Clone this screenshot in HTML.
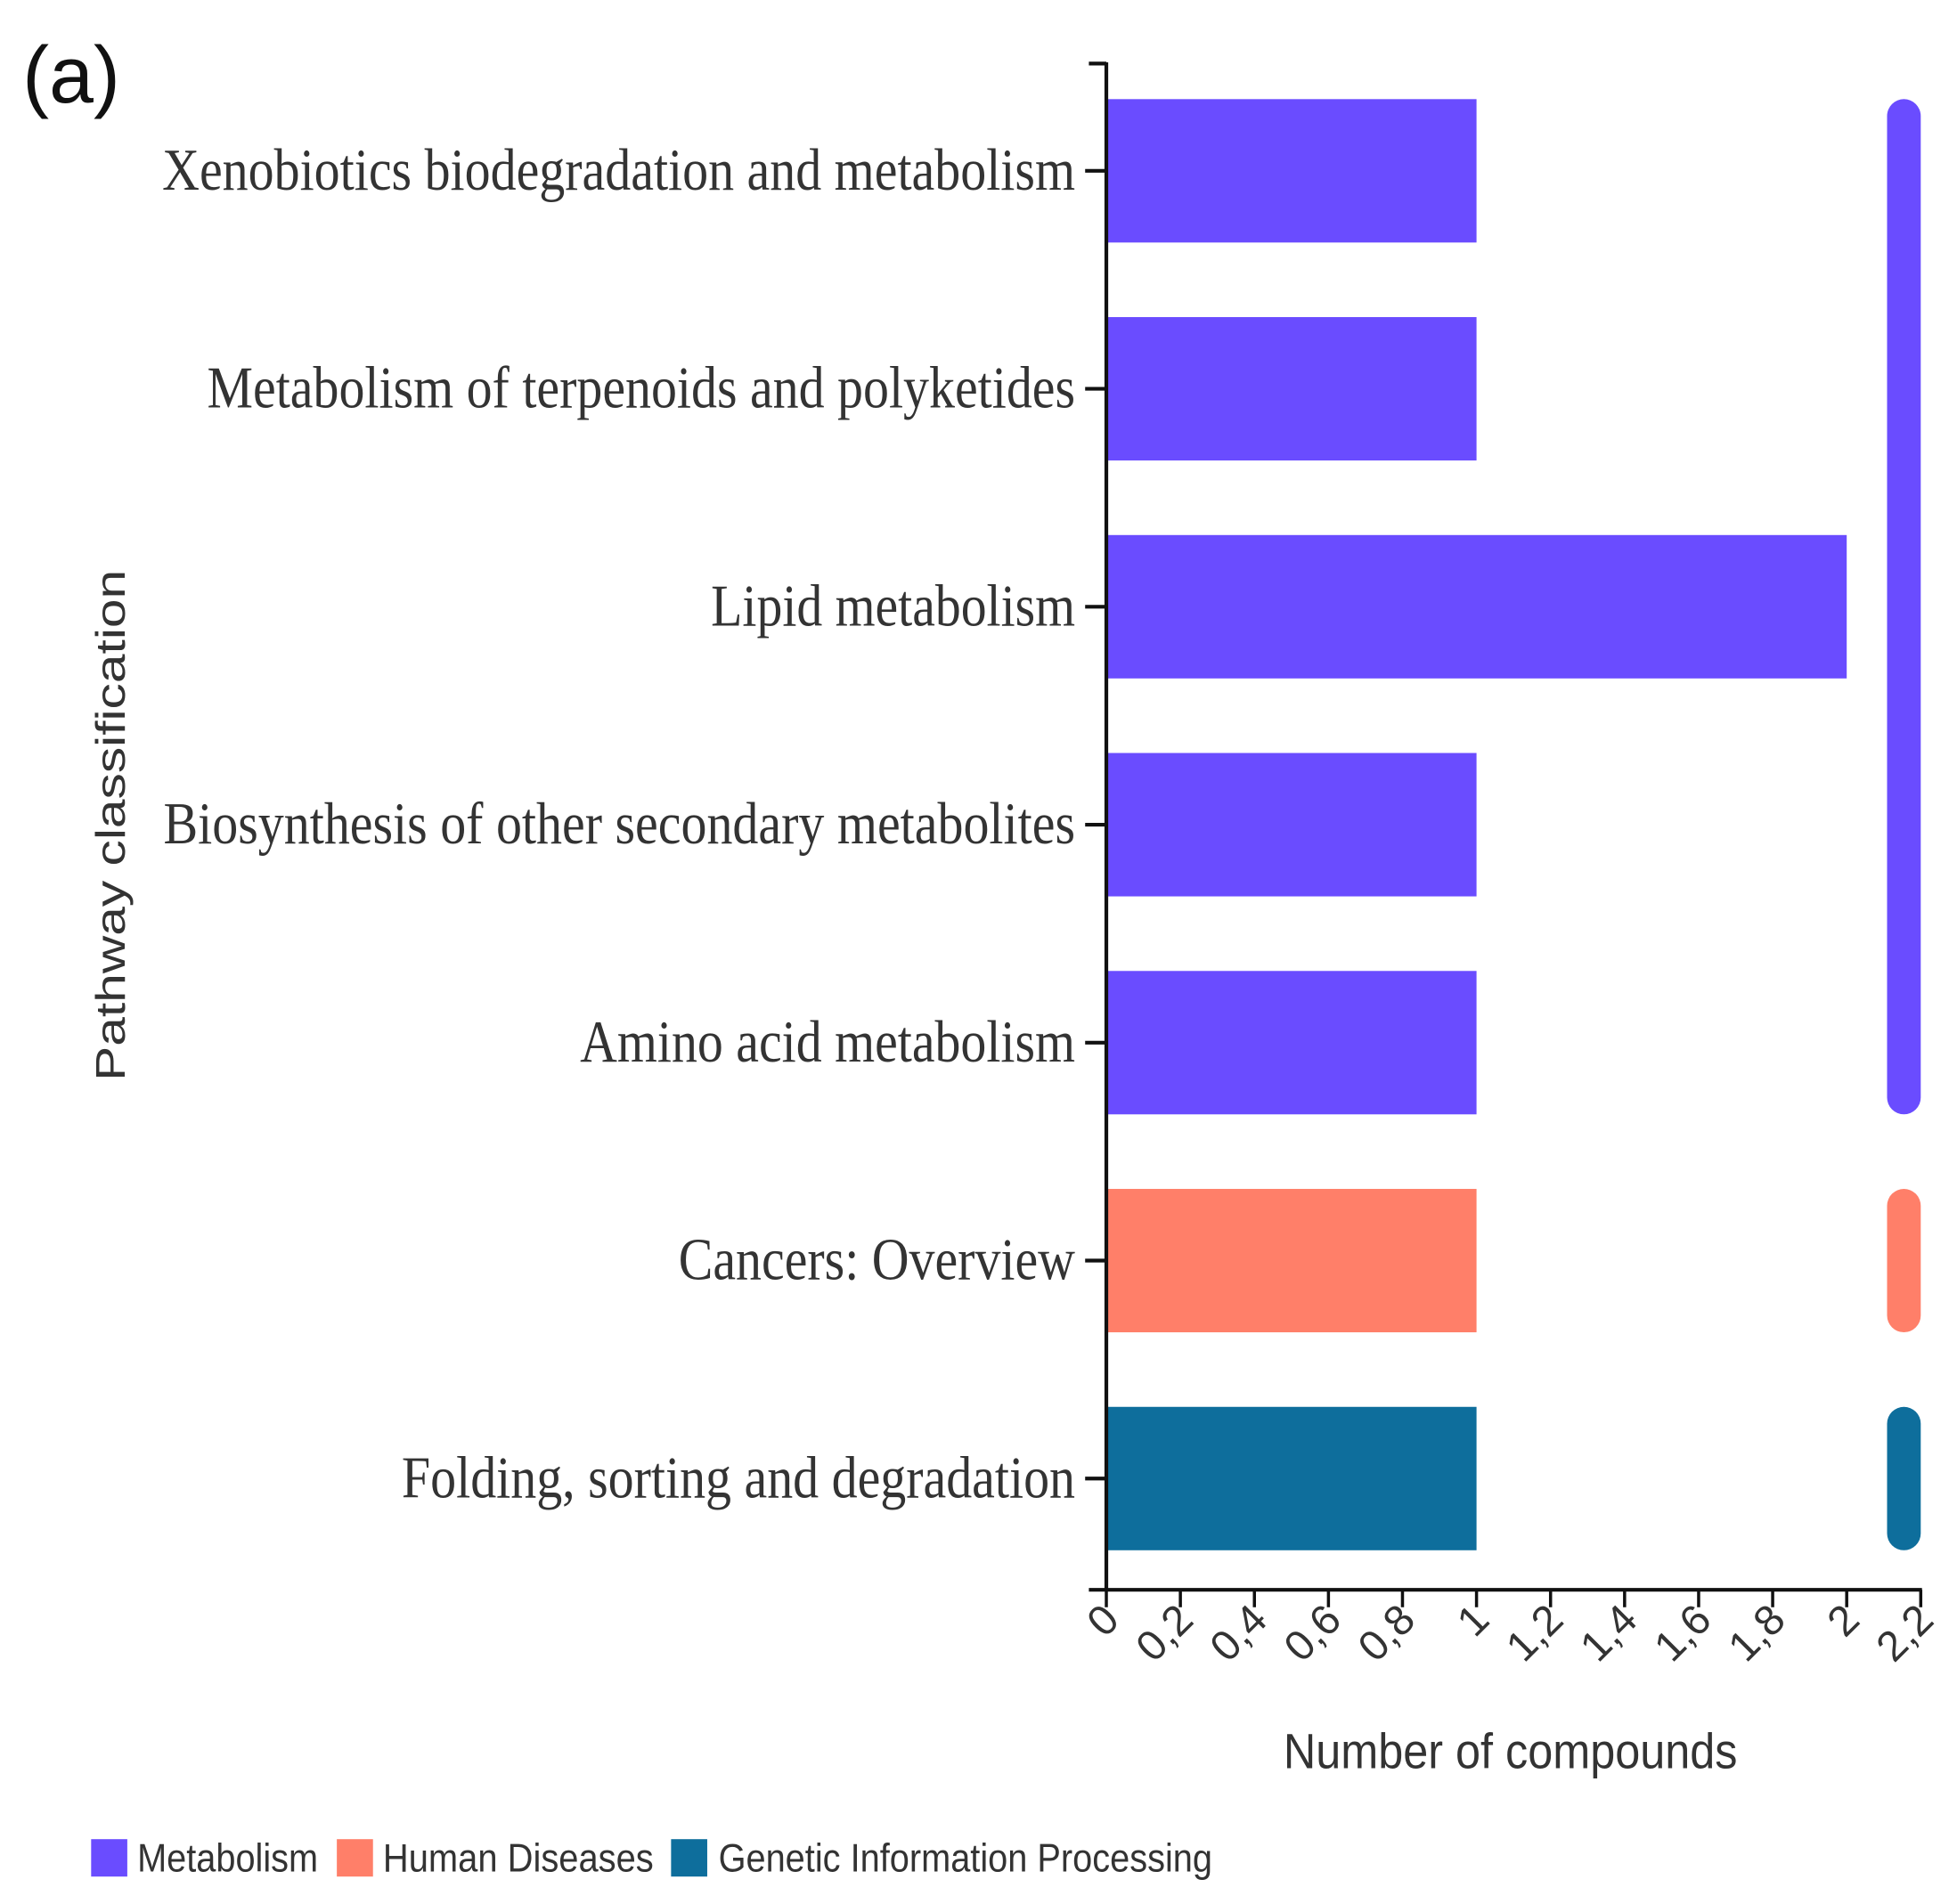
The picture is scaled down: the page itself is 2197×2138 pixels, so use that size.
<!DOCTYPE html>
<html><head><meta charset="utf-8"><style>
html,body{margin:0;padding:0;background:#fff;}
svg{display:block;}
</style></head><body>
<svg id="chart" width="2197" height="2138" viewBox="0 0 1569 1527" xmlns="http://www.w3.org/2000/svg">
<text x="18" y="82" font-family="Liberation Sans Narrow, Liberation Sans, sans-serif" font-size="64" fill="#111">(a)</text>
<g id="plot"></g>
<text transform="translate(100,662) rotate(-90)" text-anchor="middle" font-family="Liberation Sans, sans-serif" font-size="33" fill="#333" textLength="410" lengthAdjust="spacingAndGlyphs">Pathway classification</text>
<text x="1211" y="1418" text-anchor="middle" font-family="Liberation Sans, sans-serif" font-size="40" fill="#333" textLength="364" lengthAdjust="spacingAndGlyphs">Number of compounds</text>
<g>
<rect x="73" y="1475" width="29" height="30" fill="#6A4CFF"/>
<text x="110" y="1501" font-family="Liberation Sans, sans-serif" font-size="32" fill="#333" textLength="145" lengthAdjust="spacingAndGlyphs">Metabolism</text>
<rect x="270" y="1475" width="29" height="30" fill="#FF7F69"/>
<text x="307" y="1501" font-family="Liberation Sans, sans-serif" font-size="32" fill="#333" textLength="217" lengthAdjust="spacingAndGlyphs">Human Diseases</text>
<rect x="538" y="1475" width="29" height="30" fill="#0E6E9C"/>
<text x="576" y="1501" font-family="Liberation Sans, sans-serif" font-size="32" fill="#333" textLength="396" lengthAdjust="spacingAndGlyphs">Genetic Information Processing</text>
</g>
</svg>
<script>
const categories = ["Xenobiotics biodegradation and metabolism","Metabolism of terpenoids and polyketides","Lipid metabolism","Biosynthesis of other secondary metabolites","Amino acid metabolism","Cancers: Overview","Folding, sorting and degradation"];
const values = [1,1,2,1,1,1,1];
const groups = ["Metabolism","Metabolism","Metabolism","Metabolism","Metabolism","Human Diseases","Genetic Information Processing"];
const groupNames = ["Metabolism","Human Diseases","Genetic Information Processing"];
const groupColors = ["#6A4CFF","#FF7F69","#0E6E9C"];
const tickValues = [0,0.2,0.4,0.6,0.8,1,1.2,1.4,1.6,1.8,2,2.2];
const tickLabels = ["0","0,2","0,4","0,6","0,8","1","1,2","1,4","1,6","1,8","2","2,2"];
const labelWidths = [732,696,292,731,397,318,540];

const NS="http://www.w3.org/2000/svg";
const g=document.getElementById('plot');
const X0=887, XMAX=2.2, XW=653, YTOP=50, Y0c=137, STEP=174.8, BH=115, XAXY=1275;
const xs=v=>X0+v/XMAX*XW;
const yc=i=>Y0c+i*STEP;
function mk(t,a){const e=document.createElementNS(NS,t);for(const k in a)e.setAttribute(k,a[k]);g.appendChild(e);return e;}

categories.forEach((c,i)=>{
  const col=groupColors[groupNames.indexOf(groups[i])];
  const b=mk('rect',{x:xs(0),y:yc(i)-BH/2,width:xs(values[i])-xs(0),height:BH,fill:col});
  
  
  const t=mk('line',{x1:870,x2:X0,y1:yc(i),y2:yc(i),stroke:'#111','stroke-width':3});
  
  
  const l=mk('text',{x:862,y:yc(i)+15,'text-anchor':'end','font-family':'Liberation Serif, serif','font-size':48,fill:'#333',textLength:labelWidths[i],lengthAdjust:'spacingAndGlyphs'});
  l.textContent=c;
  
  
});
groupNames.forEach((gn,k)=>{
  const idx=groups.map((x,i)=>x===gn?i:-1).filter(i=>i>=0);
  const top=yc(idx[0])-BH/2, bot=yc(idx[idx.length-1])+BH/2;
  const r=mk('rect',{x:1513,y:top,width:27,height:bot-top,rx:13.5,ry:13.5,fill:groupColors[k]});
  
  
});
const ya=mk('line',{x1:X0,x2:X0,y1:YTOP,y2:XAXY,stroke:'#111','stroke-width':3});


const yt=mk('line',{x1:873,x2:X0,y1:YTOP+1,y2:YTOP+1,stroke:'#111','stroke-width':3});


const xa=mk('line',{x1:873,x2:xs(XMAX)+1,y1:XAXY,y2:XAXY,stroke:'#111','stroke-width':3});


tickValues.forEach((v,i)=>{
  const t=mk('line',{x1:xs(v),x2:xs(v),y1:XAXY,y2:XAXY+14,stroke:'#111','stroke-width':2.5});
  
  
  const l=mk('text',{transform:`translate(${xs(v)+12},${XAXY+26}) rotate(-45)`,'text-anchor':'end','font-family':'Liberation Sans, sans-serif','font-size':34,fill:'#333'});
  l.textContent=tickLabels[i];
  
  
});
</script>
</body></html>
